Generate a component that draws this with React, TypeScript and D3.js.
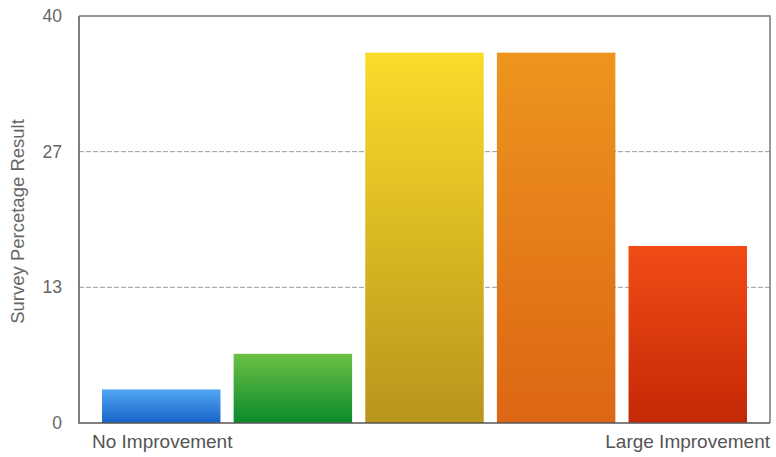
import * as d3 from "d3";
import { useEffect, useRef } from "react";

const categories = ["None", "Slight", "Moderate", "Good", "Large"];
const values = [3.3, 6.8, 36.4, 36.4, 17.4];
const tickValues = [0, 40 / 3, 80 / 3, 40];
const tickLabels = ["0", "13", "27", "40"];
const edgeLabels = ["No Improvement", "Large Improvement"];
const topColors = ["#52a6f2", "#6cc044", "#fadc2a", "#ee951e", "#f24c16"];
const bottomColors = ["#1764c8", "#0a8a2c", "#b8951c", "#dc6614", "#c42806"];

const width = 776;
const height = 457;
const margin = { top: 16, right: 6, bottom: 34, left: 79 };

export default function App() {
  const ref = useRef(null);

  useEffect(() => {
    document.body.style.margin = "0";
    draw();
  });

  function draw() {
    const svg = d3.select(ref.current);
    svg.selectAll("*").remove();

    const innerW = width - margin.left - margin.right;
    const innerH = height - margin.top - margin.bottom;
    const font = "'Liberation Sans', Arial, sans-serif";

    // gradients per bar
    const defs = svg.append("defs");
    categories.forEach((c, i) => {
      const g = defs
        .append("linearGradient")
        .attr("id", "grad" + i)
        .attr("x1", 0)
        .attr("y1", 0)
        .attr("x2", 0)
        .attr("y2", 1);
      g.append("stop").attr("offset", "0%").attr("stop-color", topColors[i]);
      g.append("stop").attr("offset", "100%").attr("stop-color", bottomColors[i]);
    });

    const plot = svg
      .append("g")
      .attr("transform", "translate(" + margin.left + "," + margin.top + ")");

    const x = d3
      .scaleBand()
      .domain(categories)
      .range([23, innerW - 23])
      .paddingInner(0.1)
      .paddingOuter(0);

    const y = d3.scaleLinear().domain([0, 40]).range([innerH, 0]);

    // dashed gridlines
    plot
      .append("g")
      .selectAll("line")
      .data(tickValues.slice(1, 3))
      .enter()
      .append("line")
      .attr("x1", 0)
      .attr("x2", innerW)
      .attr("y1", (d) => y(d))
      .attr("y2", (d) => y(d))
      .attr("stroke", "#999")
      .attr("stroke-width", 1)
      .attr("stroke-dasharray", "5,2");

    // bars
    plot
      .append("g")
      .selectAll("rect")
      .data(values)
      .enter()
      .append("rect")
      .attr("x", (d, i) => x(categories[i])!)
      .attr("y", (d) => y(d))
      .attr("width", x.bandwidth())
      .attr("height", (d) => innerH - y(d))
      .attr("fill", (d, i) => "url(#grad" + i + ")");

    // frame: top & right lighter, left & bottom darker
    plot
      .append("path")
      .attr("d", `M0,0H${innerW}V${innerH}`)
      .attr("fill", "none")
      .attr("stroke", "#777")
      .attr("stroke-width", 1.5);
    plot
      .append("path")
      .attr("d", `M0,0V${innerH}H${innerW}`)
      .attr("fill", "none")
      .attr("stroke", "#555")
      .attr("stroke-width", 1.5);

    // y tick labels
    plot
      .append("g")
      .selectAll("text")
      .data(tickValues)
      .enter()
      .append("text")
      .attr("x", -17)
      .attr("y", (d) => y(d))
      .attr("dy", "0.35em")
      .attr("text-anchor", "end")
      .attr("font-family", font)
      .attr("font-size", 17.5)
      .attr("fill", "#666")
      .text((d, i) => tickLabels[i]);

    // y axis label
    plot
      .append("text")
      .attr("transform", "rotate(-90)")
      .attr("x", -(y(20)) - 2)
      .attr("y", -55)
      .attr("text-anchor", "middle")
      .attr("font-family", font)
      .attr("font-size", 18.5)
      .attr("fill", "#666")
      .text("Survey Percetage Result");

    // x edge labels
    plot
      .append("text")
      .attr("x", 13)
      .attr("y", innerH + 25)
      .attr("font-family", font)
      .attr("font-size", 19)
      .attr("fill", "#555")
      .text(edgeLabels[0]);
    plot
      .append("text")
      .attr("x", innerW)
      .attr("y", innerH + 25)
      .attr("text-anchor", "end")
      .attr("font-family", font)
      .attr("font-size", 19)
      .attr("fill", "#555")
      .text(edgeLabels[1]);
  }

  return <svg width={width} height={height} ref={ref} style={{ display: "block" }}></svg>;
}
